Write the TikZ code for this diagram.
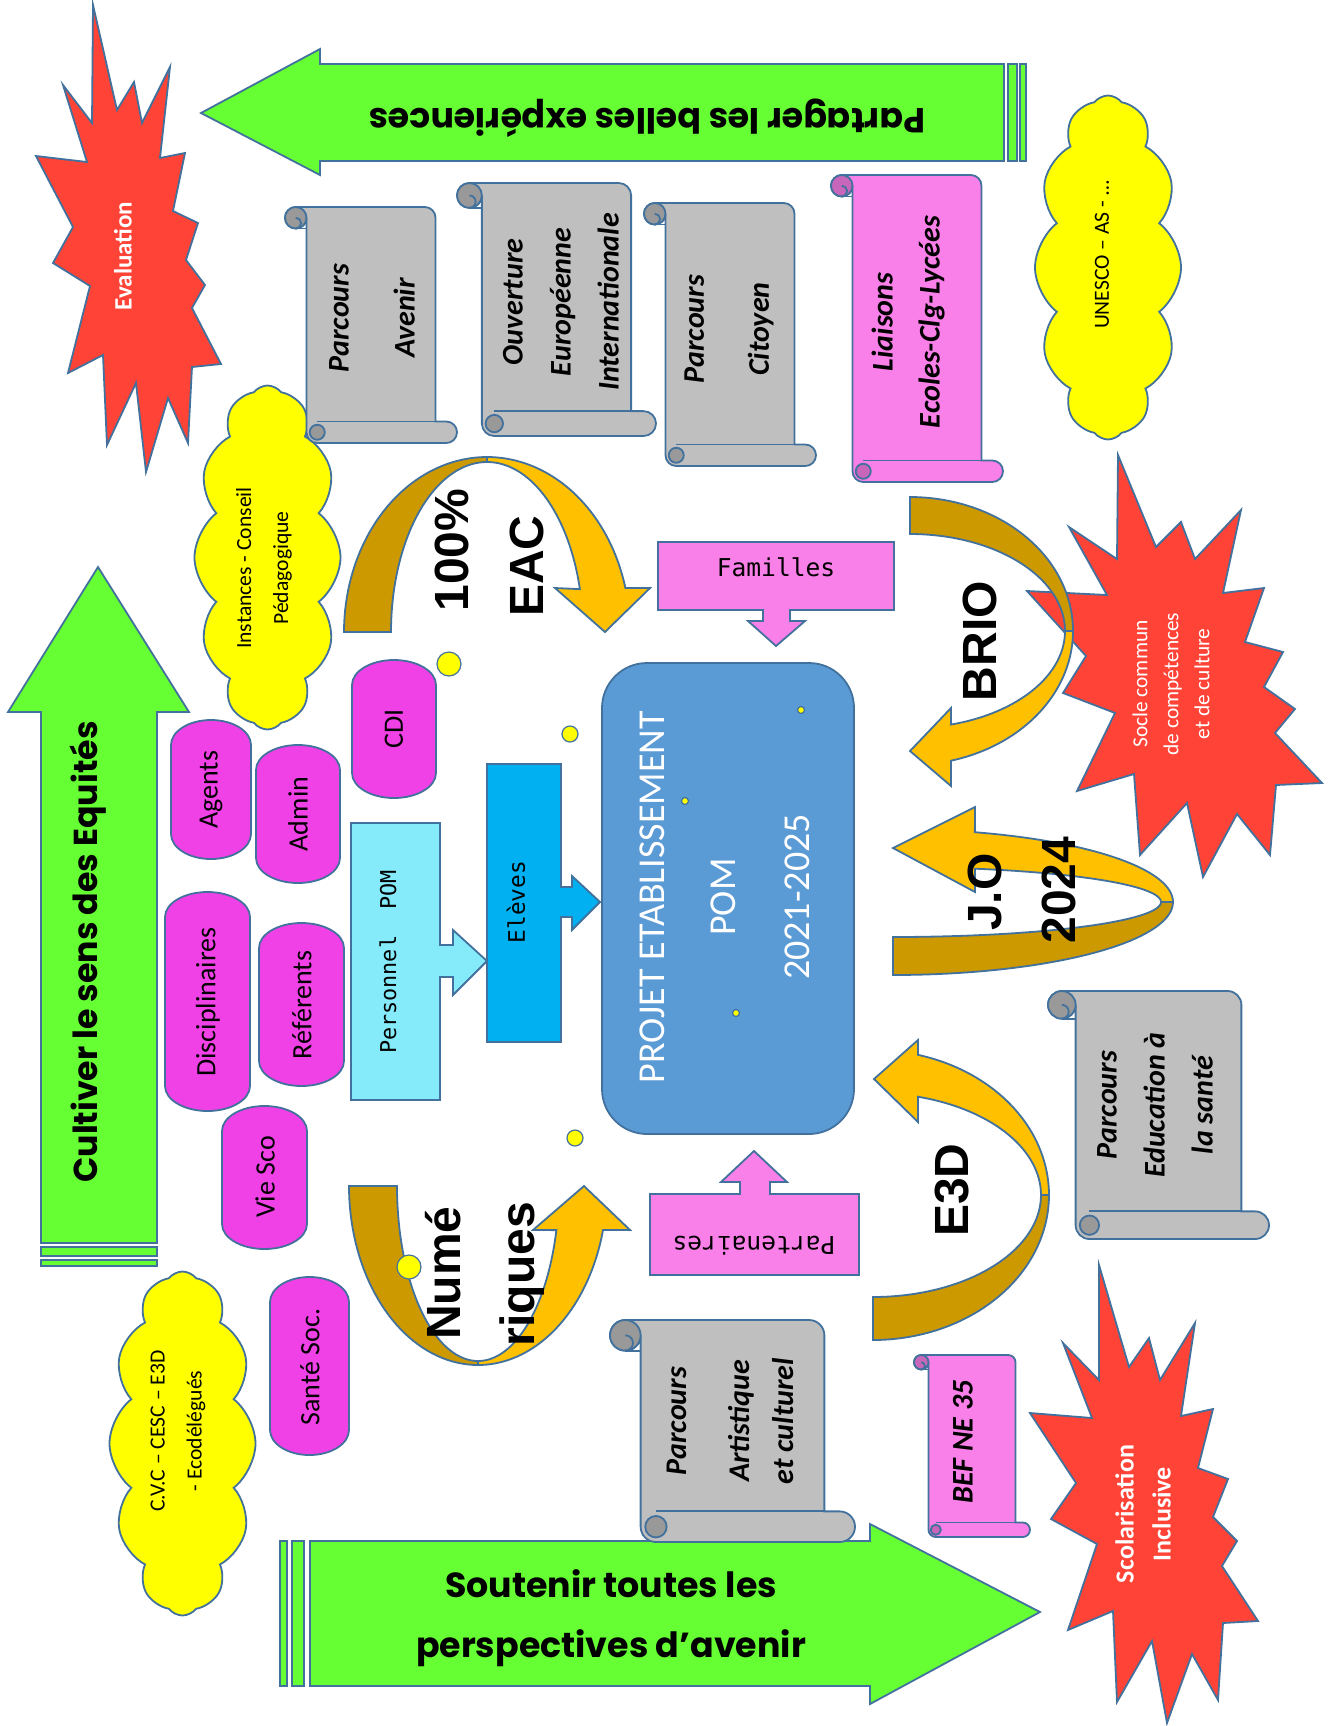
\documentclass[tikz,border=0pt]{standalone}
\usepackage{fontspec}
\setmainfont{Carlito}
\newfontfamily\comicfont{Poppins}
\newfontfamily\codefont{DejaVu Sans Mono}
\newfontfamily\heavyfont{Liberation Sans}
\usetikzlibrary{shapes.symbols}

\definecolor{lineblue}{RGB}{65,113,156}
\definecolor{arrowgreen}{RGB}{102,255,51}
\definecolor{burstred}{RGB}{255,67,54}
\definecolor{cloudyellow}{RGB}{255,255,0}
\definecolor{scrollgray}{RGB}{191,191,191}
\definecolor{scrollpink}{RGB}{249,128,232}
\definecolor{pillmagenta}{RGB}{240,65,230}
\definecolor{calloutcyan}{RGB}{133,235,250}
\definecolor{calloutblue}{RGB}{0,176,240}
\definecolor{projetblue}{RGB}{91,155,213}
\definecolor{golddark}{RGB}{204,153,0}
\definecolor{goldlight}{RGB}{255,192,0}

\tikzset{
	outline/.style={draw=lineblue, line width=0.9pt},
	bigarrow/.style={outline, fill=arrowgreen},
	burst/.style={outline, fill=burstred},
	puff/.style={outline, fill=cloudyellow, cloud, cloud puffs=12, cloud puff arc=105, cloud ignores aspect, inner sep=0pt, minimum width=73pt, minimum height=172pt},
	pillbox/.style={outline, fill=pillmagenta},
	ribbondark/.style={outline, fill=golddark},
	ribbonlight/.style={outline, fill=goldlight},
	dot/.style={outline, fill=cloudyellow, line width=0.6pt},
	bigword/.style={font=\heavyfont\bfseries\fontsize{24}{24}\selectfont, rotate=90},
	scrolltext/.style={font=\bfseries\itshape\fontsize{15}{24}\selectfont, rotate=90, align=center},
	pilltext/.style={font=\fontsize{14}{14}\selectfont, rotate=90},
	cloudtext/.style={font=\fontsize{10.8}{18.5}\selectfont, rotate=90, align=center},
	burstlabel/.style={text=white, rotate=90, align=center},
	codetext/.style={font=\codefont\fontsize{12.3}{12.3}\selectfont},
	motto/.style={font=\comicfont\bfseries\fontsize{17.4}{30}\selectfont, align=center},
}

% vertical scroll: left, top, right, bottom, fill colour
\newcommand\vscroll[5]{%
	\pgfmathsetmacro\sc{(#3-#1)/8}\pgfmathsetmacro\sh{\sc/2}\pgfmathsetmacro\sq{\sc/4}
	\draw[outline, fill=#5] ({#1+\sh},#2) -- ({#3-\sc-\sh},#2) arc[start angle=270,end angle=360,radius=\sh] -- ({#3-\sc},{#4-\sc}) -- ({#3-\sh},{#4-\sc}) arc[start angle=270,end angle=450,radius=\sh] -- ({#1+\sc+\sh},#4) arc[start angle=90,end angle=180,radius=\sh] -- ({#1+\sc},{#2+\sh}) arc[start angle=0,end angle=270,radius=\sh] -- cycle;
	\draw[outline, fill=#5!80!black] ({#1+\sh},{#2+\sh}) circle[radius=\sh];
	\draw[outline] ({#1+\sh},{#2+\sc}) -- ({#1+\sc},{#2+\sc});
	\draw[outline] ({#1+\sh},{#2+\sc}) arc[start angle=90,end angle=-90,radius=\sq];
	\draw[outline] ({#1+\sc+\sh},{#4-\sc}) -- ({#3-\sc},{#4-\sc});
	\draw[outline, fill=#5!80!black] ({#1+\sc+\sh},{#4-\sh}) circle[radius={0.7*\sh}];
}

% pill: left, top, right, bottom
\newcommand\pillshape[4]{%
	\pgfmathsetmacro\pillrad{(#3-#1)/2}
	\draw[pillbox] (#1,{#2+25}) arc[start angle=180,end angle=360,x radius=\pillrad,y radius=25] -- (#3,{#4-25}) arc[start angle=0,end angle=180,x radius=\pillrad,y radius=25] -- cycle;
}

\begin{document}
\begin{tikzpicture}[x=0.5pt, y=-0.5pt]
	\useasboundingbox (0,0) rectangle (1330,1726);
	
	%%%%% BIG ARROWS %%%%%
	\draw[bigarrow] (201,113) -- (320,49) -- (320,64) -- (1004,64) -- (1004,161) -- (320,161) -- (320,175) -- cycle;
	\draw[bigarrow] (1008,64) rectangle (1017,161);
	\draw[bigarrow] (1020,64) rectangle (1026,161);
	
	\draw[bigarrow] (98,567) -- (189,712) -- (157,712) -- (157,1243) -- (41,1243) -- (41,712) -- (8,712) -- cycle;
	\draw[bigarrow] (41,1247) rectangle (157,1256);
	\draw[bigarrow] (41,1260) rectangle (157,1266);
	
	\draw[bigarrow] (1040,1612) -- (870,1704) -- (870,1686) -- (310,1686) -- (310,1541) -- (870,1541) -- (870,1524) -- cycle;
	\draw[bigarrow] (292,1541) rectangle (304,1686);
	\draw[bigarrow] (280,1541) rectangle (287,1686);
	
	%%%%% BURSTS %%%%%
	\draw[burst] (93,5) -- (117,110) -- (134,82) -- (142,123) -- (170,67) -- (160,158) -- (185,153) -- (173,211) -- (198,223) -- (186,260) -- (205,285) -- (192,308) -- (221,364) -- (192,367) -- (188,443) -- (168,398) -- (146,472) -- (136,383) -- (107,445) -- (103,355) -- (68,373) -- (90,286) -- (53,263) -- (73,227) -- (36,156) -- (87,162) -- (63,85) -- (92,123) -- cycle;
	
	\draw[burst] (1118,455) -- (1156,547) -- (1181,522) -- (1195,559) -- (1241,510) -- (1223,593) -- (1264,588) -- (1245,642) -- (1283,652) -- (1264,687) -- (1295,709) -- (1275,733) -- (1322,783) -- (1276,785) -- (1270,855) -- (1237,814) -- (1203,877) -- (1187,803) -- (1140,855) -- (1134,774) -- (1077,791) -- (1115,713) -- (1063,693) -- (1086,656) -- (1027,591) -- (1107,595) -- (1069,527) -- (1117,559) -- cycle;
	
	\draw[burst] (1099,1265) -- (1099,1380) -- (1063,1343) -- (1092,1418) -- (1030,1413) -- (1076,1483) -- (1051,1519) -- (1097,1544) -- (1068,1630) -- (1113,1611) -- (1117,1702) -- (1152,1641) -- (1167,1723) -- (1192,1654) -- (1218,1700) -- (1223,1623) -- (1258,1621) -- (1222,1566) -- (1237,1541) -- (1213,1517) -- (1228,1479) -- (1198,1468) -- (1213,1409) -- (1181,1416) -- (1195,1323) -- (1160,1380) -- (1149,1338) -- (1129,1367) -- cycle;
	
	%%%%% CLOUDS %%%%%
	\node[puff] (unescocloud) at (1108,267.5) {};
	\node[puff] (instancescloud) at (267.5,557.5) {};
	\node[puff] (cvccloud) at (182.5,1443.5) {};
	
	%%%%% SCROLLS %%%%%
	\vscroll{285}{207}{457}{443}{scrollgray}
	\vscroll{457}{183}{656}{436}{scrollgray}
	\vscroll{644}{203}{816}{466}{scrollgray}
	\vscroll{831}{175}{1003}{482}{scrollpink}
	\vscroll{1048}{991}{1269}{1239}{scrollgray}
	\vscroll{610}{1320}{855}{1542}{scrollgray}
	\vscroll{914}{1355}{1030}{1537}{scrollpink}
	
	%%%%% PILLS %%%%%
	\pillshape{171}{720}{251}{859}
	\pillshape{256}{745}{340}{883}
	\pillshape{352}{660}{436}{798}
	\pillshape{165}{892}{250}{1111}
	\pillshape{259}{923}{344}{1086}
	\pillshape{222}{1106}{307}{1249}
	\pillshape{270}{1277}{349}{1455}
	
	%%%%% CALLOUTS %%%%%
	\draw[outline, fill=calloutcyan] (351,823) -- (440,823) -- (440,945) -- (453,945) -- (453,930) -- (487,961) -- (453,995) -- (453,977) -- (440,977) -- (440,1100) -- (351,1100) -- cycle;
	\draw[outline, fill=calloutblue] (487,764) -- (561,764) -- (561,887) -- (572,887) -- (572,876) -- (600,902) -- (572,930) -- (572,917) -- (561,917) -- (561,1042) -- (487,1042) -- cycle;
	\draw[outline, fill=scrollpink] (658,542) -- (894,542) -- (894,610) -- (790,610) -- (790,621) -- (805,621) -- (776,646) -- (748,621) -- (763,621) -- (763,610) -- (658,610) -- cycle;
	\draw[outline, fill=scrollpink] (650,1275) -- (859,1275) -- (859,1194) -- (770,1194) -- (770,1182) -- (787,1182) -- (754,1151) -- (721,1182) -- (740,1182) -- (740,1194) -- (650,1194) -- cycle;
	
	\draw[outline, fill=projetblue, rounded corners=22.5pt] (602,663) rectangle (854,1134);
	
	%%%%% RIBBON ARROWS %%%%%
	% 100% EAC
	\draw[ribbondark] plot[domain=180:270,samples=40] ({487+143*cos(\x)},{632+175*sin(\x)}) -- plot[domain=270:180,samples=40] ({487+96*cos(\x)},{632+170*sin(\x)}) -- cycle;
	\draw[ribbonlight] plot[domain=270:345.4,samples=40] ({487+143*cos(\x)},{632+175*sin(\x)}) -- (650,588) -- (605,632) -- (555,588) -- plot[domain=345.4:270,samples=40] ({487+96*cos(\x)},{632+170*sin(\x)}) -- cycle;
	% BRIO
	\draw[ribbondark] plot[domain=270:360,samples=40] ({910+163*cos(\x)},{631+134*sin(\x)}) -- plot[domain=360:270,samples=40] ({910+155*cos(\x)},{631+97*sin(\x)}) -- cycle;
	\draw[ribbonlight] plot[domain=0:75.4,samples=40] ({910+163*cos(\x)},{631+134*sin(\x)}) -- (951,786) -- (910,751) -- (951,708) -- plot[domain=74.7:0,samples=40] ({910+155*cos(\x)},{631+97*sin(\x)}) -- cycle;
	% J.O 2024
	\draw[ribbondark] plot[domain=90:0,samples=40] ({893+280*cos(\x)},{902+73*sin(\x)}) -- plot[domain=0:90,samples=40] ({893+268*cos(\x)},{902+35*sin(\x)}) -- cycle;
	\draw[ribbonlight] plot[domain=0:-73,samples=40] ({893+280*cos(\x)},{902+73*sin(\x)}) -- (975,807) -- (893,848) -- (975,892) -- plot[domain=-72.2:0,samples=40] ({893+268*cos(\x)},{902+35*sin(\x)}) -- cycle;
	% E3D
	\draw[ribbondark] plot[domain=90:0,samples=40] ({873+176*cos(\x)},{1195+145*sin(\x)}) -- plot[domain=0:90,samples=40] ({873+168*cos(\x)},{1195+102*sin(\x)}) -- cycle;
	\draw[ribbonlight] plot[domain=0:-75.2,samples=40] ({873+176*cos(\x)},{1195+145*sin(\x)}) -- (918,1040) -- (874,1079) -- (918,1122) -- plot[domain=-74.5:0,samples=40] ({873+168*cos(\x)},{1195+102*sin(\x)}) -- cycle;
	% Numeriques
	\draw[ribbondark] plot[domain=180:90,samples=40] ({478+129*cos(\x)},{1186+179*sin(\x)}) -- plot[domain=90:180,samples=40] ({478+81*cos(\x)},{1186+175*sin(\x)}) -- cycle;
	\draw[ribbonlight] plot[domain=90:14.2,samples=40] ({478+129*cos(\x)},{1186+179*sin(\x)}) -- (630,1230) -- (584,1186) -- (533,1230) -- plot[domain=14.6:90,samples=40] ({478+81*cos(\x)},{1186+175*sin(\x)}) -- cycle;
	
	%%%%% DOTS %%%%%
	\draw[dot] (449,664) circle[radius=12];
	\draw[dot] (570,734) circle[radius=8];
	\draw[dot] (575,1138) circle[radius=8];
	\draw[dot] (409,1267) circle[radius=12];
	\draw[dot] (801,710) circle[radius=3.5];
	\draw[dot] (685,801) circle[radius=3.5];
	\draw[dot] (736,1013) circle[radius=3.5];
	
	%%%%% TEXTS %%%%%
	\node[motto, rotate=180] (partager) at (647,118) {Partager les belles expériences};
	\node[motto, rotate=90, font=\comicfont\bfseries\fontsize{16.6}{16.6}\selectfont] (cultiver) at (88,952) {Cultiver le sens des Equités};
	\node[motto] (soutenir) at (611,1618) {Soutenir toutes les\\perspectives d’avenir};
	
	\node[burstlabel, font=\bfseries\fontsize{12.5}{12.5}\selectfont] (evaluation) at (123,256) {Evaluation};
	\node[burstlabel, font=\fontsize{10.7}{15.5}\selectfont] (socle) at (1171,684) {Socle commun\\de compétences\\et de culture};
	\node[burstlabel, font=\bfseries\fontsize{13}{18.5}\selectfont] (scolarisation) at (1143,1514) {Scolarisation\\Inclusive};
	
	\node[cloudtext] (unesco) at (1102,255) {UNESCO – AS - …};
	\node[cloudtext] (instances) at (264,568) {Instances - Conseil\\Pédagogique};
	\node[cloudtext] (cvc) at (178,1431) {C.V.C – CESC – E3D\\- Ecodélégués};
	
	\node[scrolltext, font=\bfseries\itshape\fontsize{15}{33}\selectfont] (avenir) at (372,318) {Parcours\\Avenir};
	\node[scrolltext] (ouverture) at (561,302) {Ouverture\\Européenne\\Internationale};
	\node[scrolltext, font=\bfseries\itshape\fontsize{15}{32.5}\selectfont] (citoyen) at (729,329) {Parcours\\Citoyen};
	\node[scrolltext, font=\bfseries\itshape\fontsize{15}{23.5}\selectfont] (liaisons) at (908,322) {Liaisons\\Ecoles-Clg-Lycées};
	\node[scrolltext] (sante) at (1155,1105) {Parcours\\Education à\\la santé};
	\node[scrolltext, font=\bfseries\itshape\fontsize{15}{22}\selectfont] (artistique) at (730,1421) {Parcours\\[9.5pt]Artistique\\et culturel};
	\node[scrolltext] (bef) at (963,1442) {BEF NE 35};
	
	\node[pilltext] (agents) at (211,790) {Agents};
	\node[pilltext] (admin) at (298,814) {Admin};
	\node[pilltext] (cdi) at (394,729) {CDI};
	\node[pilltext] (disciplinaires) at (208,1002) {Disciplinaires};
	\node[pilltext] (referents) at (302,1005) {Référents};
	\node[pilltext] (viesco) at (265,1177) {Vie Sco};
	\node[pilltext] (santesoc) at (310,1367) {Santé Soc.};
	
	\node[codetext, rotate=90, font=\codefont\fontsize{10.9}{10.9}\selectfont] (personnel) at (388,962) {Personnel\ \ POM};
	\node[codetext, rotate=90, font=\codefont\fontsize{11.4}{11.4}\selectfont] (eleves) at (516,902) {Elèves};
	\node[codetext] (familles) at (776,567) {Familles};
	\node[codetext, rotate=180] (partenaires) at (754,1246) {Partenaires};
	
	\node[burstlabel, font=\fontsize{19}{19}\selectfont] (projet) at (652,897) {PROJET ETABLISSEMENT};
	\node[burstlabel, font=\fontsize{19}{19}\selectfont] (pom) at (723,897) {POM};
	\node[burstlabel, font=\fontsize{19}{19}\selectfont] (annees) at (797,897) {2021-2025};
	
	\node[bigword] (cent) at (452,550) {100\%};
	\node[bigword] (eac) at (527,566) {EAC};
	\node[bigword] (brio) at (980,641) {BRIO};
	\node[bigword] (jo) at (985,892) {J.O};
	\node[bigword] (an2024) at (1059,890) {2024};
	\node[bigword] (e3d) at (952,1190) {E3D};
	\node[bigword] (nume) at (443,1273) {Numé};
	\node[bigword] (riques) at (522,1274) {riques};
\end{tikzpicture}
\end{document}
